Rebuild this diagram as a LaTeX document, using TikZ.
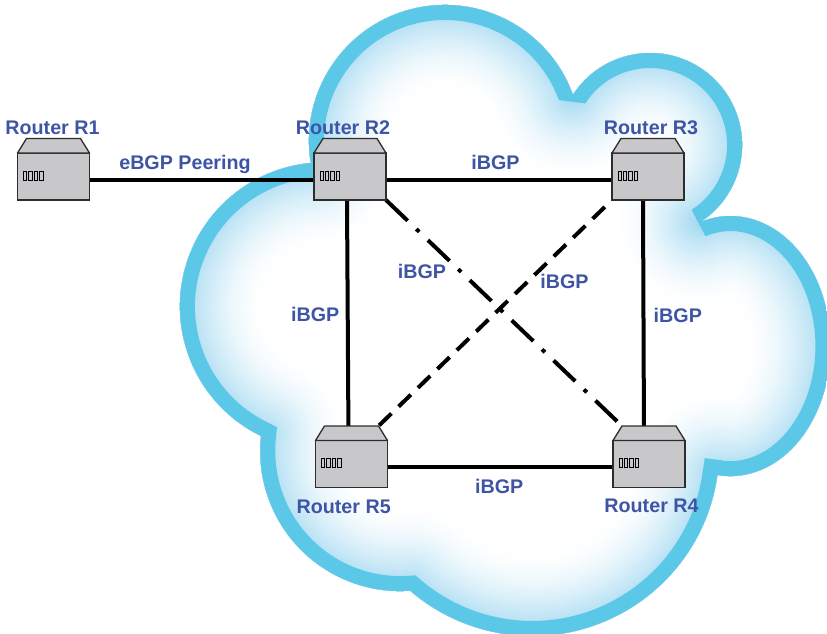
\documentclass[tikz,border=0pt]{standalone}
\usepackage{fontspec}
\setmainfont{Liberation Sans}
\usetikzlibrary{calc}

\definecolor{bandblue}{RGB}{91,200,232}
\definecolor{glowblue}{RGB}{168,219,242}
\definecolor{labelblue}{RGB}{62,84,165}
\definecolor{boxgray}{RGB}{200,200,202}
\definecolor{boxedge}{RGB}{45,45,45}

\pgfdeclarelayer{cloud}
\pgfdeclarelayer{links}
\pgfsetlayers{cloud,links,main}

% outline of the AS cloud: six lobes joined at their notches
\def\cloudpath{(310.6,162)
  arc[start angle=171.1,end angle=340.2,radius=136]
  arc[start angle=213,end angle=417,radius=92]
  arc[start angle=252.4,end angle=457.5,x radius=100,y radius=130]
  arc[start angle=8,end angle=130.7,radius=187]
  arc[start angle=85.9,end angle=186.2,radius=140]
  arc[start angle=115.9,end angle=265.2,radius=144] -- cycle}

\begin{document}
\begin{tikzpicture}[x=1pt,y=-1pt,
  router/.style={draw=boxedge, line width=1.3pt, fill=boxgray,
    minimum width=72pt, minimum height=47pt, inner sep=0pt, outer sep=0pt,
    path picture={
      \foreach \i in {0,1,2,3}{
        \draw[black, line width=0.9pt, fill=boxgray]
          ([xshift=6pt+\i*5.4pt, yshift=-18pt]path picture bounding box.north west)
          rectangle ++(3.3pt,-9pt);
      }}},
  routertop/.style={draw=boxedge, line width=1.3pt, fill=boxgray, line join=round},
  lbl/.style={font=\fontsize{19.7pt}{22pt}\selectfont\bfseries, text=labelblue,
    anchor=base, inner sep=0pt},
  link/.style={draw=black, line width=4pt},
  ibgpdashdot/.style={dash pattern=on 30pt off 12pt on 4pt off 12pt},
  ibgpdashed/.style={dash pattern=on 17pt off 10pt, dash phase=17pt}]

\useasboundingbox (0,0) rectangle (827,633);

% routers
\node[router] (R1) at (53.5,176.5) {};
\node[router] (R2) at (350,176.5) {};
\node[router] (R3) at (648,176.5) {};
\node[router] (R4) at (649,464) {};
\node[router] (R5) at (351.5,464) {};
\foreach \n in {R1,R2,R3,R4,R5}{
  \draw[routertop] (\n.north west) -- ([shift={(9pt,14.5pt)}]\n.north west)
    -- ([shift={(-9pt,14.5pt)}]\n.north east) -- (\n.north east) -- cycle;
}

% router names
\node[lbl] (nR1) at (52.5,134) {Router R1};
\node[lbl] (nR2) at (343,134) {Router R2};
\node[lbl] (nR3) at (651,134) {Router R3};
\node[lbl] (nR4) at (651.5,512.7) {Router R4};
\node[lbl] (nR5) at (343.7,513.3) {Router R5};

% session labels
\node[lbl] (ebgp) at (185,169) {eBGP Peering};
\node[lbl] (i23) at (495.5,169) {iBGP};
\node[lbl] (i25) at (315.3,321.7) {iBGP};
\node[lbl] (i24) at (422,278.3) {iBGP};
\node[lbl] (i35) at (564.5,288.3) {iBGP};
\node[lbl] (i34) at (677.8,322.7) {iBGP};
\node[lbl] (i54) at (499.2,493.3) {iBGP};

% peering sessions
\begin{pgfonlayer}{links}
\draw[link] ([yshift=-3pt]R1.east) -- ([yshift=-3pt]R2.west);
\draw[link] ([yshift=-3pt]R2.east) -- ([yshift=-3pt]R3.west);
\draw[link] ([yshift=-3pt]R5.east) -- ([yshift=-3pt]R4.west);
\draw[link] ([xshift=-3pt]R2.south) -- ([xshift=-3pt]R5.north);
\draw[link] ([xshift=-5pt]R3.south) -- ([xshift=-5pt]R4.north);
\draw[link, ibgpdashdot] (R2.south east) -- ([shift={(9pt,14.5pt)}]R4.north west);
\draw[link, ibgpdashed] (R3.south west) -- ([shift={(-9pt,14.5pt)}]R5.north east);
\end{pgfonlayer}

% the autonomous system cloud
\begin{pgfonlayer}{cloud}
\begin{scope}
  \clip \cloudpath;
  \fill[white] \cloudpath;
  \foreach \k in {0,...,39}{
    \pgfmathsetmacro\w{2*(84-2*\k)}
    \pgfmathsetmacro\p{100*((\k+1)/40)^1.7}
    \draw[line width=\w pt, line join=round, glowblue!\p!white] \cloudpath;
  }
  \draw[line width=30pt, miter limit=2, bandblue] \cloudpath;
\end{scope}
\end{pgfonlayer}

\end{tikzpicture}
\end{document}
